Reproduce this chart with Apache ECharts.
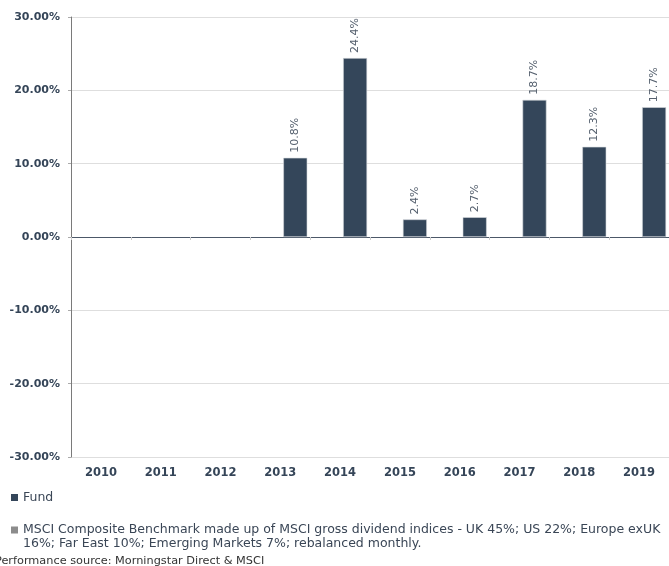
<!DOCTYPE html>
<html>
<head>
<meta charset="utf-8">
<script src="https://cdn.jsdelivr.net/npm/echarts@6/dist/echarts.min.js"></script>
<style>
html,body{margin:0;padding:0;background:#fff;}
#chart{width:669px;height:566px;}
</style>
</head>
<body>
<div id="chart"></div>
<script>
var years = ['2010','2011','2012','2013','2014','2015','2016','2017','2018','2019'];
var fundValues = [null, null, null, 10.8, 24.4, 2.4, 2.7, 18.7, 12.3, 17.7];
var benchmarkValues = [null, null, null, null, null, null, null, null, null, null];
var fundName = 'Fund';
var benchmarkName = 'MSCI Composite Benchmark made up of MSCI gross dividend indices - UK 45%; US 22%; Europe exUK 16%; Far East 10%; Emerging Markets 7%; rebalanced monthly.';
var sourceNote = 'Performance source: Morningstar Direct & MSCI';

var chart = echarts.init(document.getElementById('chart'), null, {renderer: 'canvas'});
var axisFont = 'DejaVu Sans';
var textFont = 'DejaVu Sans';
chart.setOption({
  animation: false,
  backgroundColor: '#ffffff',
  grid: {left: 71, top: 17, width: 600, bottom: 109, containLabel: false},
  legend: [
    {
      data: [fundName], left: 11, top: 491, padding: 0,
      itemWidth: 7, itemHeight: 7, itemGap: 4, icon: 'rect',
      itemStyle: {borderWidth: 0},
      textStyle: {fontFamily: textFont, fontSize: 12.5, color: '#3a4656'}
    },
    {
      data: [benchmarkName], left: 11, top: 523, padding: 0,
      itemWidth: 7, itemHeight: 21, itemGap: 4,
      icon: 'path://M0 0H7V7H0Z M0 21H0.01V21.01H0Z',
      itemStyle: {borderWidth: 0},
      textStyle: {fontFamily: textFont, fontSize: 12.5, color: '#3a4656', width: 645, overflow: 'break', lineHeight: 14}
    }
  ],
  graphic: [{
    type: 'text', left: -5, top: 556,
    style: {text: sourceNote, font: '11.3px "' + textFont + '"', fill: '#333333'}
  }],
  xAxis: [
    {
      type: 'category', data: years, position: 'bottom',
      axisLine: {onZero: true, lineStyle: {color: '#4c5868', width: 1}},
      axisTick: {show: true, length: 3, lineStyle: {color: '#cccccc'}},
      axisLabel: {show: false},
      splitLine: {show: false}
    },
    {
      type: 'category', data: years, position: 'bottom',
      axisLine: {show: false}, axisTick: {show: false},
      axisLabel: {show: true, margin: 10, fontFamily: axisFont, fontWeight: 'bold', fontSize: 11.5, color: '#354558'},
      splitLine: {show: false}
    }
  ],
  yAxis: {
    type: 'value', min: -30, max: 30, interval: 10,
    axisLine: {show: true, lineStyle: {color: '#7a7a7a'}},
    axisTick: {show: true, length: 3, lineStyle: {color: '#aaaaaa'}},
    axisLabel: {margin: 11, fontFamily: axisFont, fontWeight: 'bold', fontSize: 11, color: '#354558',
      formatter: function (v) { return v.toFixed(2) + '%'; }},
    splitLine: {show: true, lineStyle: {color: '#dedede'}}
  },
  series: [
    {
      name: benchmarkName, type: 'bar', xAxisIndex: 0, data: benchmarkValues,
      barWidth: 24, barGap: '25%', itemStyle: {color: '#8c8c8c'}
    },
    {
      name: fundName, type: 'bar', xAxisIndex: 0, data: fundValues,
      barWidth: 24, barGap: '25%',
      itemStyle: {color: '#34465a', borderColor: '#d5d8dc', borderWidth: 0.6},
      label: {
        show: true, position: 'top', rotate: 90, distance: 5, align: 'left', verticalAlign: 'middle',
        fontFamily: textFont, fontSize: 11, color: '#55606e',
        formatter: function (p) { return p.value.toFixed(1) + '%'; }
      }
    }
  ]
});
</script>
</body>
</html>
